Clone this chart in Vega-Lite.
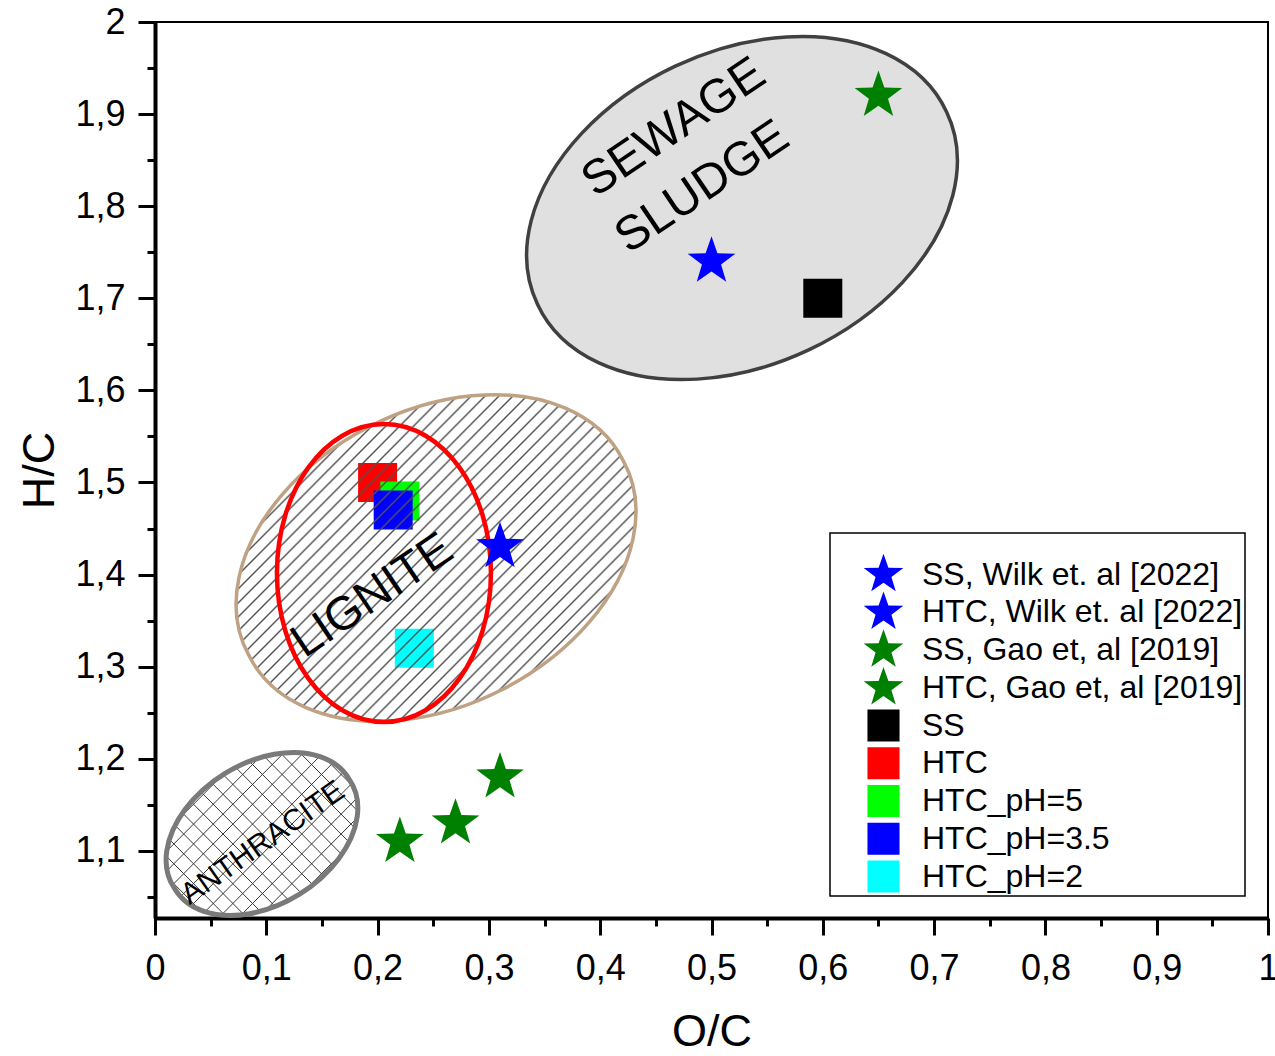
{
  "$schema": "https://vega.github.io/schema/vega-lite/v6.json",
  "width": 1113,
  "height": 896,
  "autosize": {"type": "none"},
  "padding": {"left": 155, "top": 22, "right": 7, "bottom": 138},
  "background": "white",
  "config": {
    "font": "Liberation Sans",
    "view": {"stroke": "black", "strokeWidth": 2},
    "legend": {"strokeWidth": 1.5},
    "axis": {"grid": false, "domainColor": "black", "domainWidth": 4, "tickColor": "black", "tickWidth": 3, "tickSize": 17, "labelColor": "black", "labelFontSize": 36, "labelFont": "Liberation Sans", "titleFont": "Liberation Sans", "titleFontSize": 45, "titleFontWeight": "normal", "titleColor": "black", "labelFlush": false, "labelOverlap": false, "labelBound": false}
  },
  "datasets": {
    "stars": [
      {"series": "SS, Wilk et. al [2022]", "oc": 0.50, "hc": 1.74},
      {"series": "HTC, Wilk et. al [2022]", "oc": 0.31, "hc": 1.43},
      {"series": "SS, Gao et, al [2019]", "oc": 0.65, "hc": 1.92},
      {"series": "HTC, Gao et, al [2019]", "oc": 0.22, "hc": 1.11},
      {"series": "HTC, Gao et, al [2019]", "oc": 0.27, "hc": 1.13},
      {"series": "HTC, Gao et, al [2019]", "oc": 0.31, "hc": 1.18}
    ],
    "squares": [
      {"series": "SS", "oc": 0.60, "hc": 1.70},
      {"series": "HTC", "oc": 0.20, "hc": 1.50},
      {"series": "HTC_pH=5", "oc": 0.22, "hc": 1.48},
      {"series": "HTC_pH=3.5", "oc": 0.214, "hc": 1.47},
      {"series": "HTC_pH=2", "oc": 0.233, "hc": 1.32}
    ],
    "sewage": [{"region": "Sewage sludge", "oc": 0.5274, "hc": 1.798}],
    "lignite": [{"region": "Lignite", "oc": 0.2525, "hc": 1.418}],
    "redzone": [{"region": "HTC products", "oc": 0.2057, "hc": 1.4017}],
    "anthracite": [{"region": "Anthracite", "oc": 0.0961, "hc": 1.1183}],
    "label_ss": [
      {"label": "SEWAGE", "oc": 0.4663, "hc": 1.885},
      {"label": "SLUDGE", "oc": 0.4919, "hc": 1.8203}
    ],
    "label_lig": [{"label": "LIGNITE", "oc": 0.1954, "hc": 1.3768}],
    "label_ant": [{"label": "ANTHRACITE", "oc": 0.097, "hc": 1.1086}]
  },
  "encoding": {
    "x": {
      "field": "oc", "type": "quantitative", "title": "O/C",
      "scale": {"domain": [0, 1], "nice": false, "zero": false},
      "axis": {
        "values": [0, 0.05, 0.1, 0.15, 0.2, 0.25, 0.3, 0.35, 0.4, 0.45, 0.5, 0.55, 0.6, 0.65, 0.7, 0.75, 0.8, 0.85, 0.9, 0.95, 1],
        "labelExpr": "abs(datum.value*10-round(datum.value*10))>0.01 ? '' : (datum.value==0 ? '0' : (datum.value==1 ? '1' : replace(format(datum.value,'.1f'),'.',',')))",
        "tickDash": {"condition": {"test": "abs(datum.value*10-round(datum.value*10))>0.01", "value": [8, 40]}, "value": []},
        "labelPadding": 16,
        "titlePadding": 23
      }
    },
    "y": {
      "field": "hc", "type": "quantitative", "title": "H/C",
      "scale": {"domain": [1.0271, 2], "nice": false, "zero": false},
      "axis": {
        "values": [1.05, 1.1, 1.15, 1.2, 1.25, 1.3, 1.35, 1.4, 1.45, 1.5, 1.55, 1.6, 1.65, 1.7, 1.75, 1.8, 1.85, 1.9, 1.95, 2],
        "labelExpr": "abs(datum.value*10-round(datum.value*10))>0.01 ? '' : (datum.value==2 ? '2' : replace(format(datum.value,'.1f'),'.',','))",
        "tickDash": {"condition": {"test": "abs(datum.value*10-round(datum.value*10))>0.01", "value": [8, 40]}, "value": []},
        "labelPadding": 13,
        "titlePadding": 12
      }
    }
  },
  "layer": [
    {
      "data": {"name": "sewage"},
      "mark": {"type": "point", "filled": true, "opacity": 1, "size": 4,
        "shape": "M-204.5 96.2A226 156 -25.2 1 1 204.5 -96.2A226 156 -25.2 1 1 -204.5 96.2Z",
        "fill": "#e0e0e0", "stroke": "#404040", "strokeWidth": 3.5}
    },
    {
      "data": {"name": "anthracite"},
      "mark": {"type": "point", "filled": true, "opacity": 1, "size": 4,
        "shape": "M-87.6 54.1A103 69 -31.7 1 1 87.6 -54.1A103 69 -31.7 1 1 -87.6 54.1Z",
        "strokeWidth": 0,
        "fill": {"gradient": "linear", "x1": 0, "y1": 0, "x2": 1, "y2": 0.843, "stops": [
          {"offset": 0.237, "color": "rgba(51,51,51,0)"}, {"offset": 0.24, "color": "#333333"}, {"offset": 0.243, "color": "rgba(51,51,51,0)"},
          {"offset": 0.297, "color": "rgba(51,51,51,0)"}, {"offset": 0.30, "color": "#333333"}, {"offset": 0.303, "color": "rgba(51,51,51,0)"},
          {"offset": 0.357, "color": "rgba(51,51,51,0)"}, {"offset": 0.36, "color": "#333333"}, {"offset": 0.363, "color": "rgba(51,51,51,0)"},
          {"offset": 0.417, "color": "rgba(51,51,51,0)"}, {"offset": 0.42, "color": "#333333"}, {"offset": 0.423, "color": "rgba(51,51,51,0)"},
          {"offset": 0.477, "color": "rgba(51,51,51,0)"}, {"offset": 0.48, "color": "#333333"}, {"offset": 0.483, "color": "rgba(51,51,51,0)"},
          {"offset": 0.537, "color": "rgba(51,51,51,0)"}, {"offset": 0.54, "color": "#333333"}, {"offset": 0.543, "color": "rgba(51,51,51,0)"},
          {"offset": 0.597, "color": "rgba(51,51,51,0)"}, {"offset": 0.60, "color": "#333333"}, {"offset": 0.603, "color": "rgba(51,51,51,0)"},
          {"offset": 0.657, "color": "rgba(51,51,51,0)"}, {"offset": 0.66, "color": "#333333"}, {"offset": 0.663, "color": "rgba(51,51,51,0)"},
          {"offset": 0.717, "color": "rgba(51,51,51,0)"}, {"offset": 0.72, "color": "#333333"}, {"offset": 0.723, "color": "rgba(51,51,51,0)"},
          {"offset": 0.777, "color": "rgba(51,51,51,0)"}, {"offset": 0.78, "color": "#333333"}, {"offset": 0.783, "color": "rgba(51,51,51,0)"},
          {"offset": 0.837, "color": "rgba(51,51,51,0)"}, {"offset": 0.84, "color": "#333333"}, {"offset": 0.843, "color": "rgba(51,51,51,0)"}
        ]}}
    },
    {
      "data": {"name": "anthracite"},
      "mark": {"type": "point", "filled": true, "opacity": 1, "size": 4,
        "shape": "M-87.6 54.1A103 69 -31.7 1 1 87.6 -54.1A103 69 -31.7 1 1 -87.6 54.1Z",
        "stroke": "#7a7a7a", "strokeWidth": 5,
        "fill": {"gradient": "linear", "x1": 0, "y1": 1, "x2": 1, "y2": 0.157, "stops": [
          {"offset": 0.117, "color": "rgba(51,51,51,0)"}, {"offset": 0.12, "color": "#333333"}, {"offset": 0.123, "color": "rgba(51,51,51,0)"},
          {"offset": 0.177, "color": "rgba(51,51,51,0)"}, {"offset": 0.18, "color": "#333333"}, {"offset": 0.183, "color": "rgba(51,51,51,0)"},
          {"offset": 0.237, "color": "rgba(51,51,51,0)"}, {"offset": 0.24, "color": "#333333"}, {"offset": 0.243, "color": "rgba(51,51,51,0)"},
          {"offset": 0.297, "color": "rgba(51,51,51,0)"}, {"offset": 0.30, "color": "#333333"}, {"offset": 0.303, "color": "rgba(51,51,51,0)"},
          {"offset": 0.357, "color": "rgba(51,51,51,0)"}, {"offset": 0.36, "color": "#333333"}, {"offset": 0.363, "color": "rgba(51,51,51,0)"},
          {"offset": 0.417, "color": "rgba(51,51,51,0)"}, {"offset": 0.42, "color": "#333333"}, {"offset": 0.423, "color": "rgba(51,51,51,0)"},
          {"offset": 0.477, "color": "rgba(51,51,51,0)"}, {"offset": 0.48, "color": "#333333"}, {"offset": 0.483, "color": "rgba(51,51,51,0)"},
          {"offset": 0.537, "color": "rgba(51,51,51,0)"}, {"offset": 0.54, "color": "#333333"}, {"offset": 0.543, "color": "rgba(51,51,51,0)"},
          {"offset": 0.597, "color": "rgba(51,51,51,0)"}, {"offset": 0.60, "color": "#333333"}, {"offset": 0.603, "color": "rgba(51,51,51,0)"},
          {"offset": 0.657, "color": "rgba(51,51,51,0)"}, {"offset": 0.66, "color": "#333333"}, {"offset": 0.663, "color": "rgba(51,51,51,0)"},
          {"offset": 0.717, "color": "rgba(51,51,51,0)"}, {"offset": 0.72, "color": "#333333"}, {"offset": 0.723, "color": "rgba(51,51,51,0)"},
          {"offset": 0.777, "color": "rgba(51,51,51,0)"}, {"offset": 0.78, "color": "#333333"}, {"offset": 0.783, "color": "rgba(51,51,51,0)"},
          {"offset": 0.837, "color": "rgba(51,51,51,0)"}, {"offset": 0.84, "color": "#333333"}, {"offset": 0.843, "color": "rgba(51,51,51,0)"},
          {"offset": 0.897, "color": "rgba(51,51,51,0)"}, {"offset": 0.90, "color": "#333333"}, {"offset": 0.903, "color": "rgba(51,51,51,0)"},
          {"offset": 0.957, "color": "rgba(51,51,51,0)"}, {"offset": 0.96, "color": "#333333"}, {"offset": 0.963, "color": "rgba(51,51,51,0)"}
        ]}}
    },
    {
      "data": {"name": "squares"},
      "mark": {"type": "point", "filled": true, "opacity": 1, "size": 1521, "strokeWidth": 0},
      "encoding": {
        "color": {"field": "series", "type": "nominal",
          "scale": {"domain": ["SS, Wilk et. al [2022]", "HTC, Wilk et. al [2022]", "SS, Gao et, al [2019]", "HTC, Gao et, al [2019]", "SS", "HTC", "HTC_pH=5", "HTC_pH=3.5", "HTC_pH=2"],
            "range": ["#0000ff", "#0000ff", "#008000", "#008000", "#000000", "#ff0000", "#00ff00", "#0000ff", "#00ffff"]},
          "legend": {"orient": "none", "legendX": 675, "legendY": 511, "title": " ", "titleFontSize": 14, "titlePadding": 9, "labelFontSize": 32, "labelColor": "black", "labelLimit": 500, "symbolSize": 1029, "symbolStrokeWidth": 0, "symbolOpacity": 1, "symbolOffset": 35, "labelOffset": 22, "rowPadding": -1.25, "padding": 2, "strokeColor": "black", "fillColor": "white"}},
        "shape": {"field": "series", "type": "nominal",
          "scale": {"domain": ["SS, Wilk et. al [2022]", "HTC, Wilk et. al [2022]", "SS, Gao et, al [2019]", "HTC, Gao et, al [2019]", "SS", "HTC", "HTC_pH=5", "HTC_pH=3.5", "HTC_pH=2"],
            "range": ["M0 -1.3L0.3056 -0.4207L1.2364 -0.4017L0.4946 0.1607L0.7641 1.0517L0 0.52L-0.7641 1.0517L-0.4946 0.1607L-1.2364 -0.4017L-0.3056 -0.4207Z", "M0 -1.3L0.3056 -0.4207L1.2364 -0.4017L0.4946 0.1607L0.7641 1.0517L0 0.52L-0.7641 1.0517L-0.4946 0.1607L-1.2364 -0.4017L-0.3056 -0.4207Z", "M0 -1.3L0.3056 -0.4207L1.2364 -0.4017L0.4946 0.1607L0.7641 1.0517L0 0.52L-0.7641 1.0517L-0.4946 0.1607L-1.2364 -0.4017L-0.3056 -0.4207Z", "M0 -1.3L0.3056 -0.4207L1.2364 -0.4017L0.4946 0.1607L0.7641 1.0517L0 0.52L-0.7641 1.0517L-0.4946 0.1607L-1.2364 -0.4017L-0.3056 -0.4207Z", "M0 -1.3M0 1.06M-1 -1L1 -1L1 1L-1 1Z", "M0 -1.3M0 1.06M-1 -1L1 -1L1 1L-1 1Z", "M0 -1.3M0 1.06M-1 -1L1 -1L1 1L-1 1Z", "M0 -1.3M0 1.06M-1 -1L1 -1L1 1L-1 1Z", "M0 -1.3M0 1.06M-1 -1L1 -1L1 1L-1 1Z"]},
          "legend": {"orient": "none", "legendX": 675, "legendY": 511, "title": " ", "titleFontSize": 14, "titlePadding": 9, "labelFontSize": 32, "labelColor": "black", "labelLimit": 500, "symbolSize": 1029, "symbolStrokeWidth": 0, "symbolOpacity": 1, "symbolOffset": 35, "labelOffset": 22, "rowPadding": -1.25, "padding": 2, "strokeColor": "black", "fillColor": "white"}}
      }
    },
    {
      "data": {"name": "lignite"},
      "mark": {"type": "point", "filled": true, "opacity": 1, "size": 4,
        "shape": "M-187.3 97.1A211 145 -27.4 1 1 187.3 -97.1A211 145 -27.4 1 1 -187.3 97.1Z",
        "stroke": "#bfa184", "strokeWidth": 3.5,
        "fill": {"gradient": "linear", "x1": 0, "y1": 0, "x2": 1, "y2": 0.81, "stops": [
          {"offset": 0.228, "color": "rgba(80,80,80,0)"}, {"offset": 0.231, "color": "#505050"}, {"offset": 0.234, "color": "rgba(80,80,80,0)"},
          {"offset": 0.249, "color": "rgba(80,80,80,0)"}, {"offset": 0.252, "color": "#505050"}, {"offset": 0.255, "color": "rgba(80,80,80,0)"},
          {"offset": 0.270, "color": "rgba(80,80,80,0)"}, {"offset": 0.273, "color": "#505050"}, {"offset": 0.276, "color": "rgba(80,80,80,0)"},
          {"offset": 0.291, "color": "rgba(80,80,80,0)"}, {"offset": 0.294, "color": "#505050"}, {"offset": 0.297, "color": "rgba(80,80,80,0)"},
          {"offset": 0.312, "color": "rgba(80,80,80,0)"}, {"offset": 0.315, "color": "#505050"}, {"offset": 0.318, "color": "rgba(80,80,80,0)"},
          {"offset": 0.333, "color": "rgba(80,80,80,0)"}, {"offset": 0.336, "color": "#505050"}, {"offset": 0.339, "color": "rgba(80,80,80,0)"},
          {"offset": 0.354, "color": "rgba(80,80,80,0)"}, {"offset": 0.357, "color": "#505050"}, {"offset": 0.360, "color": "rgba(80,80,80,0)"},
          {"offset": 0.375, "color": "rgba(80,80,80,0)"}, {"offset": 0.378, "color": "#505050"}, {"offset": 0.381, "color": "rgba(80,80,80,0)"},
          {"offset": 0.396, "color": "rgba(80,80,80,0)"}, {"offset": 0.399, "color": "#505050"}, {"offset": 0.402, "color": "rgba(80,80,80,0)"},
          {"offset": 0.417, "color": "rgba(80,80,80,0)"}, {"offset": 0.420, "color": "#505050"}, {"offset": 0.423, "color": "rgba(80,80,80,0)"},
          {"offset": 0.438, "color": "rgba(80,80,80,0)"}, {"offset": 0.441, "color": "#505050"}, {"offset": 0.444, "color": "rgba(80,80,80,0)"},
          {"offset": 0.459, "color": "rgba(80,80,80,0)"}, {"offset": 0.462, "color": "#505050"}, {"offset": 0.465, "color": "rgba(80,80,80,0)"},
          {"offset": 0.480, "color": "rgba(80,80,80,0)"}, {"offset": 0.483, "color": "#505050"}, {"offset": 0.486, "color": "rgba(80,80,80,0)"},
          {"offset": 0.501, "color": "rgba(80,80,80,0)"}, {"offset": 0.504, "color": "#505050"}, {"offset": 0.507, "color": "rgba(80,80,80,0)"},
          {"offset": 0.522, "color": "rgba(80,80,80,0)"}, {"offset": 0.525, "color": "#505050"}, {"offset": 0.528, "color": "rgba(80,80,80,0)"},
          {"offset": 0.543, "color": "rgba(80,80,80,0)"}, {"offset": 0.546, "color": "#505050"}, {"offset": 0.549, "color": "rgba(80,80,80,0)"},
          {"offset": 0.564, "color": "rgba(80,80,80,0)"}, {"offset": 0.567, "color": "#505050"}, {"offset": 0.570, "color": "rgba(80,80,80,0)"},
          {"offset": 0.585, "color": "rgba(80,80,80,0)"}, {"offset": 0.588, "color": "#505050"}, {"offset": 0.591, "color": "rgba(80,80,80,0)"},
          {"offset": 0.606, "color": "rgba(80,80,80,0)"}, {"offset": 0.609, "color": "#505050"}, {"offset": 0.612, "color": "rgba(80,80,80,0)"},
          {"offset": 0.627, "color": "rgba(80,80,80,0)"}, {"offset": 0.630, "color": "#505050"}, {"offset": 0.633, "color": "rgba(80,80,80,0)"},
          {"offset": 0.648, "color": "rgba(80,80,80,0)"}, {"offset": 0.651, "color": "#505050"}, {"offset": 0.654, "color": "rgba(80,80,80,0)"},
          {"offset": 0.669, "color": "rgba(80,80,80,0)"}, {"offset": 0.672, "color": "#505050"}, {"offset": 0.675, "color": "rgba(80,80,80,0)"},
          {"offset": 0.690, "color": "rgba(80,80,80,0)"}, {"offset": 0.693, "color": "#505050"}, {"offset": 0.696, "color": "rgba(80,80,80,0)"},
          {"offset": 0.711, "color": "rgba(80,80,80,0)"}, {"offset": 0.714, "color": "#505050"}, {"offset": 0.717, "color": "rgba(80,80,80,0)"},
          {"offset": 0.732, "color": "rgba(80,80,80,0)"}, {"offset": 0.735, "color": "#505050"}, {"offset": 0.738, "color": "rgba(80,80,80,0)"},
          {"offset": 0.753, "color": "rgba(80,80,80,0)"}, {"offset": 0.756, "color": "#505050"}, {"offset": 0.759, "color": "rgba(80,80,80,0)"},
          {"offset": 0.774, "color": "rgba(80,80,80,0)"}, {"offset": 0.777, "color": "#505050"}, {"offset": 0.780, "color": "rgba(80,80,80,0)"},
          {"offset": 0.795, "color": "rgba(80,80,80,0)"}, {"offset": 0.798, "color": "#505050"}, {"offset": 0.801, "color": "rgba(80,80,80,0)"},
          {"offset": 0.816, "color": "rgba(80,80,80,0)"}, {"offset": 0.819, "color": "#505050"}, {"offset": 0.822, "color": "rgba(80,80,80,0)"},
          {"offset": 0.837, "color": "rgba(80,80,80,0)"}, {"offset": 0.840, "color": "#505050"}, {"offset": 0.843, "color": "rgba(80,80,80,0)"},
          {"offset": 0.858, "color": "rgba(80,80,80,0)"}, {"offset": 0.861, "color": "#505050"}, {"offset": 0.864, "color": "rgba(80,80,80,0)"}
        ]}}
    },
    {
      "data": {"name": "redzone"},
      "mark": {"type": "point", "filled": false, "opacity": 1, "size": 4,
        "shape": "M-107 0A107 149 0 1 1 107 0A107 149 0 1 1 -107 0Z",
        "fill": "transparent", "stroke": "#ff0000", "strokeWidth": 4.5}
    },
    {
      "data": {"name": "label_ss"},
      "mark": {"type": "text", "angle": -34, "fontSize": 48, "font": "Liberation Sans", "color": "black", "align": "center", "baseline": "middle"},
      "encoding": {"text": {"field": "label"}}
    },
    {
      "data": {"name": "label_lig"},
      "mark": {"type": "text", "angle": -34, "fontSize": 47, "font": "Liberation Sans", "color": "black", "align": "center", "baseline": "middle"},
      "encoding": {"text": {"field": "label"}}
    },
    {
      "data": {"name": "label_ant"},
      "mark": {"type": "text", "angle": -35, "fontSize": 30, "font": "Liberation Sans", "color": "black", "align": "center", "baseline": "middle"},
      "encoding": {"text": {"field": "label"}}
    },
    {
      "data": {"name": "stars"},
      "mark": {"type": "point", "filled": true, "opacity": 1, "size": 1490, "strokeWidth": 0},
      "encoding": {
        "color": {"field": "series", "type": "nominal",
          "scale": {"domain": ["SS, Wilk et. al [2022]", "HTC, Wilk et. al [2022]", "SS, Gao et, al [2019]", "HTC, Gao et, al [2019]", "SS", "HTC", "HTC_pH=5", "HTC_pH=3.5", "HTC_pH=2"],
            "range": ["#0000ff", "#0000ff", "#008000", "#008000", "#000000", "#ff0000", "#00ff00", "#0000ff", "#00ffff"]},
          "legend": {"orient": "none", "legendX": 675, "legendY": 511, "title": " ", "titleFontSize": 14, "titlePadding": 9, "labelFontSize": 32, "labelColor": "black", "labelLimit": 500, "symbolSize": 1029, "symbolStrokeWidth": 0, "symbolOpacity": 1, "symbolOffset": 35, "labelOffset": 22, "rowPadding": -1.25, "padding": 2, "strokeColor": "black", "fillColor": "white"}},
        "shape": {"field": "series", "type": "nominal",
          "scale": {"domain": ["SS, Wilk et. al [2022]", "HTC, Wilk et. al [2022]", "SS, Gao et, al [2019]", "HTC, Gao et, al [2019]", "SS", "HTC", "HTC_pH=5", "HTC_pH=3.5", "HTC_pH=2"],
            "range": ["M0 -1.3L0.3056 -0.4207L1.2364 -0.4017L0.4946 0.1607L0.7641 1.0517L0 0.52L-0.7641 1.0517L-0.4946 0.1607L-1.2364 -0.4017L-0.3056 -0.4207Z", "M0 -1.3L0.3056 -0.4207L1.2364 -0.4017L0.4946 0.1607L0.7641 1.0517L0 0.52L-0.7641 1.0517L-0.4946 0.1607L-1.2364 -0.4017L-0.3056 -0.4207Z", "M0 -1.3L0.3056 -0.4207L1.2364 -0.4017L0.4946 0.1607L0.7641 1.0517L0 0.52L-0.7641 1.0517L-0.4946 0.1607L-1.2364 -0.4017L-0.3056 -0.4207Z", "M0 -1.3L0.3056 -0.4207L1.2364 -0.4017L0.4946 0.1607L0.7641 1.0517L0 0.52L-0.7641 1.0517L-0.4946 0.1607L-1.2364 -0.4017L-0.3056 -0.4207Z", "M0 -1.3M0 1.06M-1 -1L1 -1L1 1L-1 1Z", "M0 -1.3M0 1.06M-1 -1L1 -1L1 1L-1 1Z", "M0 -1.3M0 1.06M-1 -1L1 -1L1 1L-1 1Z", "M0 -1.3M0 1.06M-1 -1L1 -1L1 1L-1 1Z", "M0 -1.3M0 1.06M-1 -1L1 -1L1 1L-1 1Z"]},
          "legend": {"orient": "none", "legendX": 675, "legendY": 511, "title": " ", "titleFontSize": 14, "titlePadding": 9, "labelFontSize": 32, "labelColor": "black", "labelLimit": 500, "symbolSize": 1029, "symbolStrokeWidth": 0, "symbolOpacity": 1, "symbolOffset": 35, "labelOffset": 22, "rowPadding": -1.25, "padding": 2, "strokeColor": "black", "fillColor": "white"}}
      }
    }
  ]
}
